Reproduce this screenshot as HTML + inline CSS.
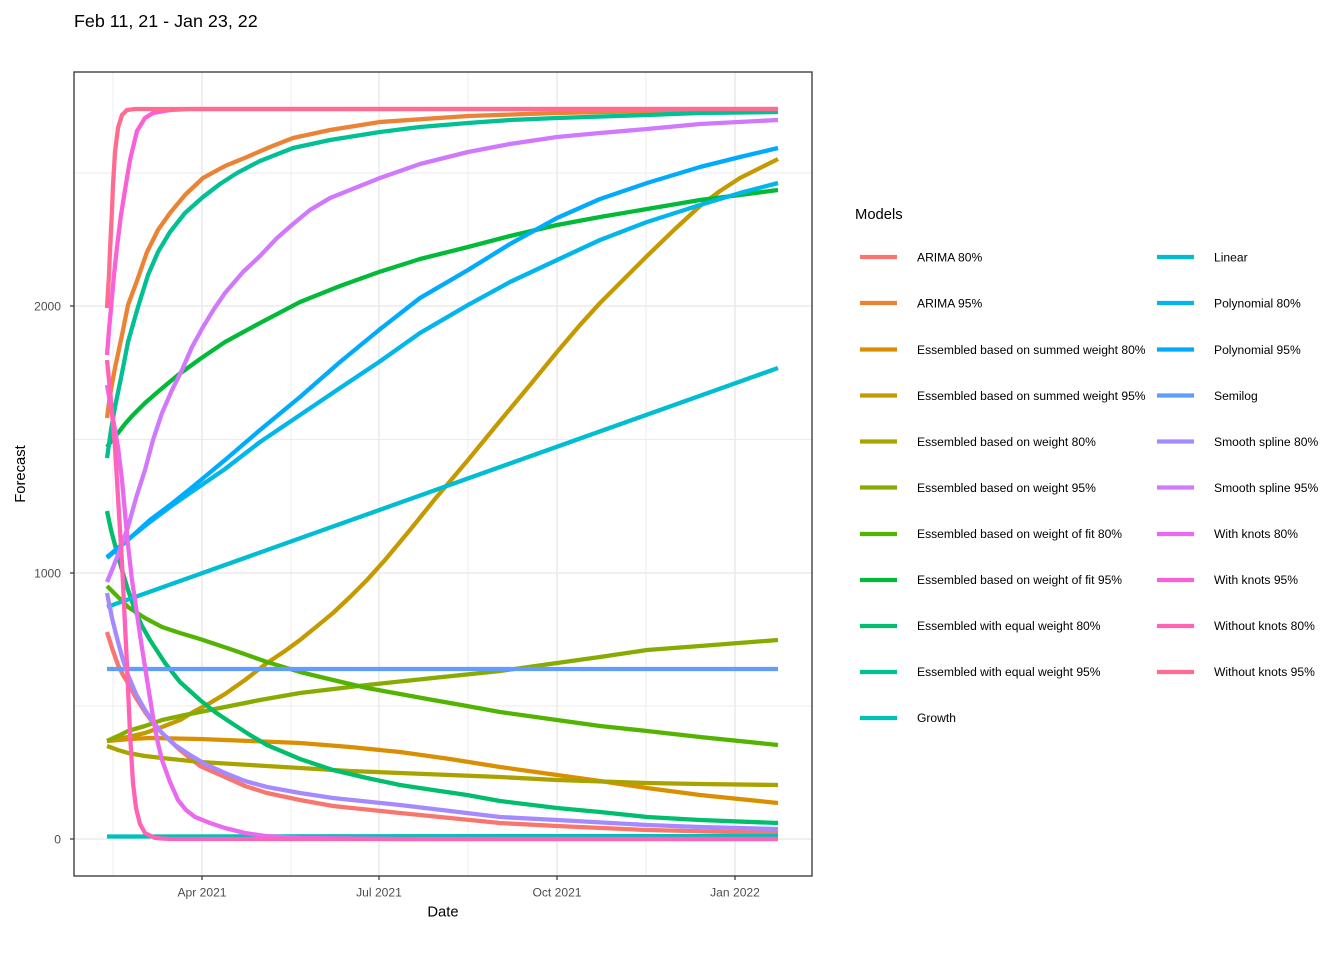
<!DOCTYPE html>
<html>
<head>
<meta charset="utf-8">
<style>
html,body{margin:0;padding:0;background:#fff;}
svg{display:block;}
text{font-family:"Liberation Sans",Arial,sans-serif;}
</style>
</head>
<body>
<svg width="1344" height="960" viewBox="0 0 1344 960" xmlns="http://www.w3.org/2000/svg">
<rect x="0" y="0" width="1344" height="960" fill="#ffffff"/>
<!-- title -->
<text x="74" y="27" font-size="17.9" fill="#000">Feb 11, 21 - Jan 23, 22</text>

<!-- panel -->
<rect x="74" y="72" width="738" height="804" fill="#ffffff"/>
<!-- minor grid -->
<g stroke="#EBEBEB" stroke-width="0.9" fill="none">
<line x1="113" y1="72" x2="113" y2="876"/>
<line x1="291" y1="72" x2="291" y2="876"/>
<line x1="468" y1="72" x2="468" y2="876"/>
<line x1="646" y1="72" x2="646" y2="876"/>
<line x1="74" y1="173" x2="812" y2="173"/>
<line x1="74" y1="439.5" x2="812" y2="439.5"/>
<line x1="74" y1="706" x2="812" y2="706"/>
</g>
<!-- major grid -->
<g stroke="#EBEBEB" stroke-width="1.6" fill="none">
<line x1="202" y1="72" x2="202" y2="876"/>
<line x1="379" y1="72" x2="379" y2="876"/>
<line x1="557" y1="72" x2="557" y2="876"/>
<line x1="735" y1="72" x2="735" y2="876"/>
<line x1="74" y1="306" x2="812" y2="306"/>
<line x1="74" y1="573" x2="812" y2="573"/>
<line x1="74" y1="839" x2="812" y2="839"/>
</g>

<!-- series -->
<g fill="none" stroke-width="4.3" stroke-linejoin="round" stroke-linecap="butt">
<!-- ARIMA 80% -->
<polyline stroke="#F8766D" points="107,632 112,648 118,665 123,675 128,683 136,698 145,712 153,723 162,733 180,750 200,766 225,777 245,786 267,793 300,800 333,806 400,813 450,818 500,823 557,826 647,830 778,833"/>
<!-- ARIMA 95% -->
<polyline stroke="#EB8335" points="107,418 110,395 115,368 122,335 128,305 138,278 147,252 158,230 170,213 185,195 203,178 225,166 247,157 270,147 293,138 330,130 380,122 468,116 557,113 650,111 778,110"/>
<!-- Summed weight 80% -->
<polyline stroke="#DA8F00" points="107,741 130,739 150,738 200,739 250,741 300,743 350,747 400,752 450,759 500,767 557,775 600,781 647,788 700,795 778,803"/>
<!-- Summed weight 95% -->
<polyline stroke="#C59A00" points="107,741 128,737 145,733 162,727 180,720 195,711 210,703 225,694 245,680 267,663 285,651 300,640 316,627 333,613 350,597 367,580 385,560 410,530 435,499 468,460 500,421 530,385 557,352 580,325 600,303 625,278 647,256 675,229 700,206 720,191 740,178 760,168 778,159"/>
<!-- Weight 80% -->
<polyline stroke="#A9A300" points="107,746 118,750 128,753 145,756 162,758 200,762 250,765 300,768 350,771 400,773 450,775 500,777 557,780 647,783 700,784 778,785"/>
<!-- Weight 95% -->
<polyline stroke="#87AC00" points="107,741 118,736 128,731 145,726 162,720 185,715 200,712 225,707 260,700 300,693 367,685 433,678 500,671 557,663 600,657 647,650 700,646 778,640"/>
<!-- Weight of fit 80% -->
<polyline stroke="#52B400" points="107,586 118,597 128,607 145,618 162,627 180,633 200,639 233,650 267,662 300,672 333,680 367,688 400,694 433,700 467,706 500,712 557,720 600,726 647,731 700,737 778,745"/>
<!-- Weight of fit 95% -->
<polyline stroke="#00BA38" points="107,447 112,440 118,433 125,424 132,416 145,403 160,390 178,375 200,359 225,342 260,323 300,302 340,286 379,272 420,259 468,247 510,236 557,225 600,217 647,209 700,200 740,195 778,190"/>
<!-- Equal weight 80% -->
<polyline stroke="#00BE6C" points="107,511 111,530 115,545 122,570 128,590 135,610 142,626 150,640 165,663 180,682 200,700 215,712 233,724 250,735 267,745 300,759 333,770 367,778 400,785 433,790 467,795 500,801 557,808 600,812 647,817 700,820 778,823"/>
<!-- Equal weight 95% -->
<polyline stroke="#00C094" points="107,458 111,430 115,407 122,373 128,342 138,307 148,275 158,252 170,232 185,213 203,197 220,184 237,173 260,161 293,148 330,140 380,132 420,127 468,123 510,120 557,118 647,115 700,113 778,112"/>
<!-- Growth -->
<polyline stroke="#00C0B8" points="107,836.5 778,836"/>
<!-- Linear -->
<polyline stroke="#00BDD2" points="107,607 778,368"/>
<!-- Polynomial 80% -->
<polyline stroke="#00B6EB" points="107,558 130,538 150,522 170,507 190,493 225,469 260,442 300,415 340,388 379,362 420,333 468,305 510,282 557,260 600,240 647,222 700,205 740,193 778,183"/>
<!-- Polynomial 95% -->
<polyline stroke="#00ABFD" points="107,557 130,538 150,520 170,505 190,489 225,460 260,430 300,397 340,362 379,330 420,298 468,270 510,244 557,218 600,199 647,183 700,167 740,157 778,148"/>
<!-- Semilog -->
<polyline stroke="#619CFF" points="107,669 778,669"/>
<!-- Smooth spline 80% -->
<polyline stroke="#A58AFF" points="107,593 112,618 118,642 123,660 128,675 136,694 145,710 153,722 162,733 175,745 190,755 205,764 225,773 245,781 267,787 300,793 333,798 400,805 450,811 500,817 557,820 647,825 700,827 778,829"/>
<!-- Smooth spline 95% -->
<polyline stroke="#D079FD" points="107,582 112,570 118,555 123,541 128,527 136,498 145,470 153,440 162,413 172,390 182,370 192,347 203,327 214,309 225,293 243,272 260,256 277,238 293,224 310,210 330,198 355,188 380,178 420,164 468,152 510,144 557,137 600,133 647,129 700,124 778,120"/>
<!-- With knots 80% -->
<polyline stroke="#EA69EF" points="107,385 112,413 118,447 122,480 125,513 128,545 132,580 135,600 140,635 145,667 149,692 153,717 157,739 162,760 170,782 178,800 186,810 195,817 210,823 225,828 245,833 265,836 300,838 400,839 778,839"/>
<!-- With knots 95% -->
<polyline stroke="#FB61D7" points="107,355 109,330 111,308 114,275 117,247 121,215 125,190 130,160 137,131 145,118 153,113 170,110 190,109 778,109"/>
<!-- Without knots 80% -->
<polyline stroke="#FF63B6" points="107,360 110,390 112,413 115,447 118,497 120,530 122,563 125,625 127,665 130,733 133,783 136,808 140,824 145,833 155,838 170,839 778,839"/>
<!-- Without knots 95% -->
<polyline stroke="#FF6C90" points="107,308 109,275 110,250 112,210 113,185 115,152 118,128 122,115 127,110 135,109 778,109"/>
</g>

<!-- panel border -->
<rect x="74" y="72" width="738" height="804" fill="none" stroke="#333333" stroke-width="1.3"/>

<!-- ticks -->
<g stroke="#333333" stroke-width="1.2">
<line x1="70" y1="306" x2="74" y2="306"/>
<line x1="70" y1="573" x2="74" y2="573"/>
<line x1="70" y1="839" x2="74" y2="839"/>
<line x1="202" y1="876" x2="202" y2="880"/>
<line x1="379" y1="876" x2="379" y2="880"/>
<line x1="557" y1="876" x2="557" y2="880"/>
<line x1="735" y1="876" x2="735" y2="880"/>
</g>

<!-- tick labels -->
<g font-size="12.1" fill="#4D4D4D">
<text x="61" y="310.3" text-anchor="end">2000</text>
<text x="61" y="577.3" text-anchor="end">1000</text>
<text x="61" y="843.3" text-anchor="end">0</text>
<text x="202" y="896.5" text-anchor="middle">Apr 2021</text>
<text x="379" y="896.5" text-anchor="middle">Jul 2021</text>
<text x="557" y="896.5" text-anchor="middle">Oct 2021</text>
<text x="735" y="896.5" text-anchor="middle">Jan 2022</text>
</g>

<!-- axis titles -->
<text x="443" y="916.5" font-size="14.8" fill="#000" text-anchor="middle">Date</text>
<text x="0" y="0" font-size="14.8" fill="#000" text-anchor="middle" transform="translate(25,474) rotate(-90)">Forecast</text>

<!-- legend -->
<text x="855" y="219" font-size="14.8" fill="#000">Models</text>
<g stroke-width="4.3">
<line x1="860" y1="257" x2="897" y2="257" stroke="#F8766D"/>
<line x1="860" y1="303" x2="897" y2="303" stroke="#EB8335"/>
<line x1="860" y1="349.5" x2="897" y2="349.5" stroke="#DA8F00"/>
<line x1="860" y1="395.5" x2="897" y2="395.5" stroke="#C59A00"/>
<line x1="860" y1="441.5" x2="897" y2="441.5" stroke="#A9A300"/>
<line x1="860" y1="487.5" x2="897" y2="487.5" stroke="#87AC00"/>
<line x1="860" y1="534" x2="897" y2="534" stroke="#52B400"/>
<line x1="860" y1="580" x2="897" y2="580" stroke="#00BA38"/>
<line x1="860" y1="626" x2="897" y2="626" stroke="#00BE6C"/>
<line x1="860" y1="672" x2="897" y2="672" stroke="#00C094"/>
<line x1="860" y1="718" x2="897" y2="718" stroke="#00C0B8"/>
<line x1="1157" y1="257" x2="1194" y2="257" stroke="#00BDD2"/>
<line x1="1157" y1="303" x2="1194" y2="303" stroke="#00B6EB"/>
<line x1="1157" y1="349.5" x2="1194" y2="349.5" stroke="#00ABFD"/>
<line x1="1157" y1="395.5" x2="1194" y2="395.5" stroke="#619CFF"/>
<line x1="1157" y1="441.5" x2="1194" y2="441.5" stroke="#A58AFF"/>
<line x1="1157" y1="487.5" x2="1194" y2="487.5" stroke="#D079FD"/>
<line x1="1157" y1="534" x2="1194" y2="534" stroke="#EA69EF"/>
<line x1="1157" y1="580" x2="1194" y2="580" stroke="#FB61D7"/>
<line x1="1157" y1="626" x2="1194" y2="626" stroke="#FF63B6"/>
<line x1="1157" y1="672" x2="1194" y2="672" stroke="#FF6C90"/>
</g>
<g font-size="12.1" fill="#000">
<text x="917" y="261.5">ARIMA 80%</text>
<text x="917" y="307.5">ARIMA 95%</text>
<text x="917" y="353.8">Essembled based on summed weight 80%</text>
<text x="917" y="399.8">Essembled based on summed weight 95%</text>
<text x="917" y="445.8">Essembled based on weight 80%</text>
<text x="917" y="491.8">Essembled based on weight 95%</text>
<text x="917" y="538.2">Essembled based on weight of fit 80%</text>
<text x="917" y="584.2">Essembled based on weight of fit 95%</text>
<text x="917" y="630.2">Essembled with equal weight 80%</text>
<text x="917" y="676.2">Essembled with equal weight 95%</text>
<text x="917" y="722.2">Growth</text>
<text x="1214" y="261.5">Linear</text>
<text x="1214" y="307.5">Polynomial 80%</text>
<text x="1214" y="353.8">Polynomial 95%</text>
<text x="1214" y="399.8">Semilog</text>
<text x="1214" y="445.8">Smooth spline 80%</text>
<text x="1214" y="491.8">Smooth spline 95%</text>
<text x="1214" y="538.2">With knots 80%</text>
<text x="1214" y="584.2">With knots 95%</text>
<text x="1214" y="630.2">Without knots 80%</text>
<text x="1214" y="676.2">Without knots 95%</text>
</g>
</svg>
</body>
</html>
